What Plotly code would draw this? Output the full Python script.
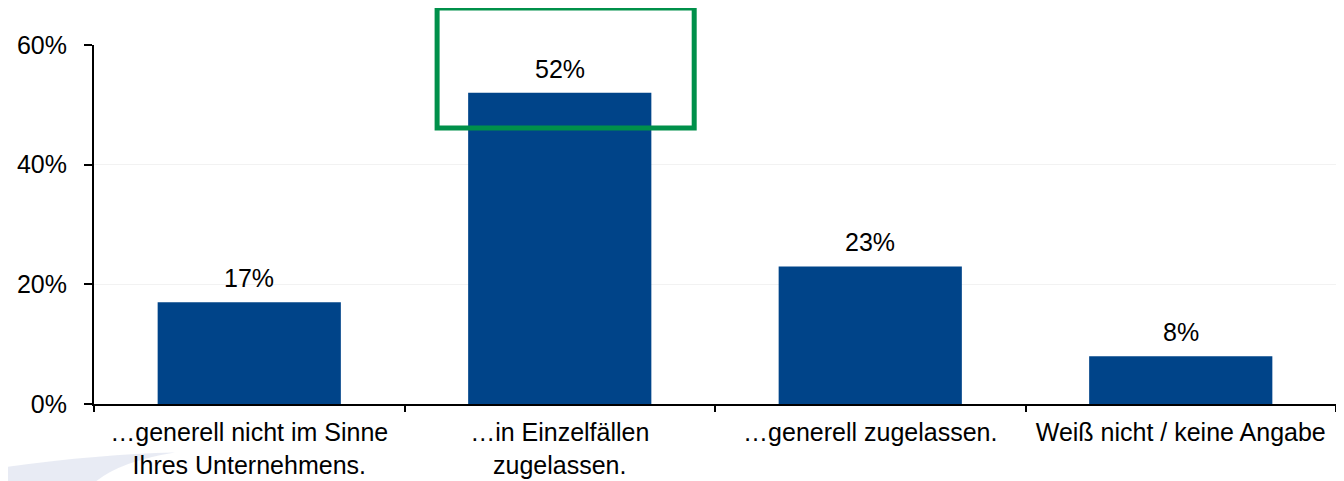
import plotly.graph_objects as go

categories = ["…generell nicht im Sinne<br>Ihres Unternehmens.",
              "…in Einzelfällen<br>zugelassen.",
              "…generell zugelassen.",
              "Weiß nicht / keine Angabe"]
values = [17, 52, 23, 8]
value_labels = ["17%", "52%", "23%", "8%"]
y_ticks = [0, 20, 40, 60]
y_tick_labels = ["0%", "20%", "40%", "60%"]
highlight_index = 1

BAR_COLOR = "#004489"
FONT = "Liberation Sans, Arial, sans-serif"
FS = 25

fig = go.Figure()
fig.add_trace(go.Bar(x=categories, y=values, marker=dict(color=BAR_COLOR, line=dict(width=0)),
                     width=0.59, hoverinfo="skip"))

for c, v, t in zip(categories, values, value_labels):
    fig.add_annotation(x=c, y=v, text=t, showarrow=False, yanchor="bottom", yshift=8,
                       font=dict(size=FS, color="#000000", family=FONT))

# highlight box around second bar top
n = len(categories)
x0 = (highlight_index - 0.395 + 0.5) / n
x1 = (highlight_index + 0.433 + 0.5) / n
fig.add_shape(type="rect", xref="paper", yref="paper", x0=x0, x1=x1, y0=0.769, y1=1.103,
              line=dict(color="#00904A", width=5), fillcolor="rgba(0,0,0,0)")

# faint background swoosh bottom-left
fig.add_shape(type="path", xref="paper", yref="paper", layer="below",
              path="M -0.08 -0.18 Q 0.0 -0.14 0.065 -0.135 Q 0.02 -0.16 0.0 -0.22 L -0.08 -0.22 Z",
              line=dict(width=0), fillcolor="rgba(210,216,234,0.5)")

# page body has an 8px margin: compensate so the plot lands where the reference has it
fig.update_layout(
    width=1336, height=473,
    margin=dict(l=86, r=8, t=37, b=77, autoexpand=False),
    plot_bgcolor="white", paper_bgcolor="white",
    showlegend=False,
    bargap=0.41,
    font=dict(family=FONT, size=FS, color="#000000"),
    xaxis=dict(type="category", showline=True, linecolor="#000000", linewidth=2,
               ticks="outside", tickson="boundaries", ticklen=6, tickcolor="#000000", tickwidth=2,
               tickfont=dict(size=FS, family=FONT, color="#000000"), showgrid=False,
               range=[-0.5, n - 0.5], ticklabelstandoff=5, automargin=False),
    yaxis=dict(range=[0, 60], tickvals=y_ticks, ticktext=y_tick_labels, showline=True,
               linecolor="#000000", linewidth=2, ticks="outside", ticklen=8, tickcolor="#000000",
               tickwidth=2, showgrid=True, gridcolor="#f2f2f2", gridwidth=1, zeroline=False,
               tickfont=dict(size=FS, family=FONT, color="#000000"), ticklabelstandoff=12,
               automargin=False),
)

fig.write_html("out.html")
